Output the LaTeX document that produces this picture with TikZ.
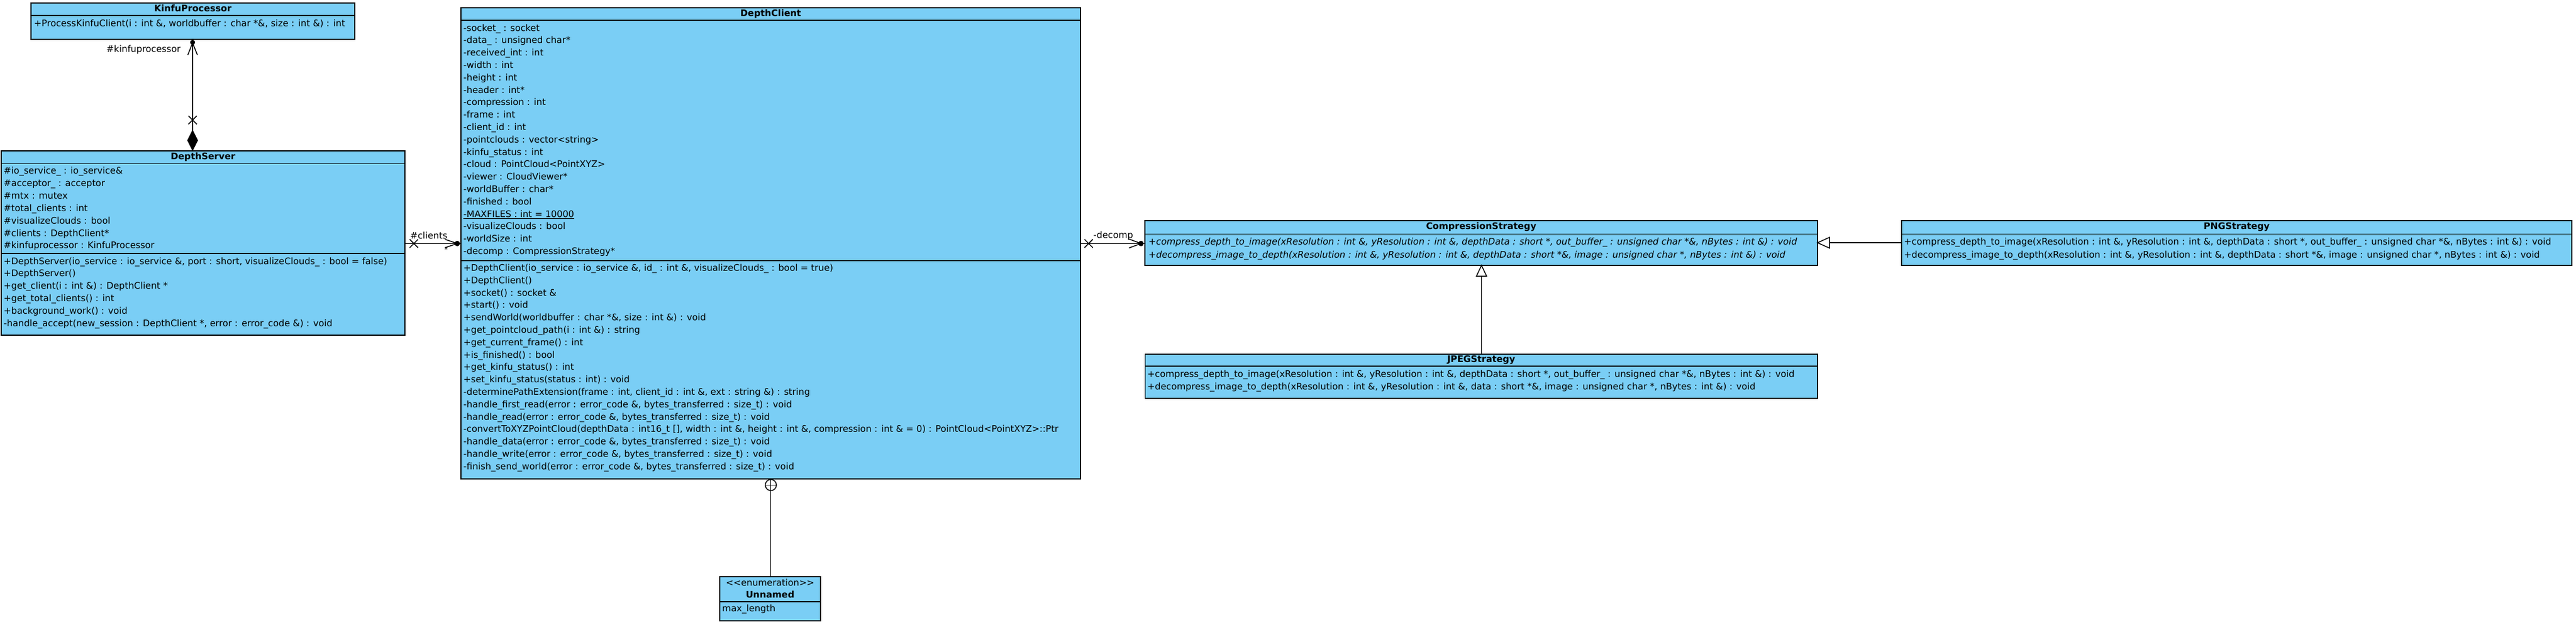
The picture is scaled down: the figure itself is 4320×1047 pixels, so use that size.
\documentclass[tikz,border=0pt]{standalone}
\usepackage{fontspec}
\setmainfont{DejaVu Sans}
\usetikzlibrary{calc}
\definecolor{cls}{RGB}{122,206,245}
\begin{document}
\begin{tikzpicture}[x=1pt,y=-1pt,
  box/.style={draw=black, line width=1.8pt, fill=cls, anchor=north west, inner sep=0pt, outer sep=0pt, rectangle},
  sepl/.style={line width=1.6pt},
  txt/.style={anchor=west, inner sep=0pt, font=\fontsize{15.2pt}{20pt}\selectfont, text height=11pt, text depth=3.4pt},
  itx/.style={txt, font=\fontsize{15.2pt}{20pt}\selectfont\itshape},
  ttl/.style={anchor=center, inner sep=0pt, font=\fontsize{15.2pt}{20pt}\selectfont\bfseries, text height=11pt, text depth=3.4pt},
  lbl/.style={anchor=center, inner sep=0pt, font=\fontsize{15.2pt}{20pt}\selectfont, text height=11pt, text depth=3.4pt},
  conn/.style={line width=1.5pt}]

\useasboundingbox[fill=white] (0,0) rectangle (4320,1047);

% ---------- boxes ----------
\node[box, minimum width=543pt, minimum height=61pt] (kp) at (52,5) {};
\node[box, minimum width=677pt, minimum height=308.4pt] (ds) at (2,253.3) {};
\node[box, minimum width=1038.4pt, minimum height=789.4pt] (dc) at (773.3,13.3) {};
\node[box, minimum width=1127.8pt, minimum height=75pt] (cs) at (1920.2,370) {};
\node[box, minimum width=1123.9pt, minimum height=75pt] (png) at (3188.8,370) {};
\node[box, minimum width=1127.5pt, minimum height=74.3pt] (jp) at (1920.5,594) {};
\node[box, minimum width=168.4pt, minimum height=74.3pt] (en) at (1207.3,966.7) {};

% ---------- compartment separators ----------
\draw[sepl] (52,26) -- (595,26);
\draw[sepl] (2,274.5) -- (679,274.5);
\draw[sepl] (2,425) -- (679,425);
\draw[sepl] (773.3,34) -- (1811.7,34);
\draw[sepl] (773.3,436.7) -- (1811.7,436.7);
\draw[sepl] (1920.2,392.3) -- (3048,392.3);
\draw[sepl] (3188.8,392.3) -- (4312.7,392.3);
\draw[sepl] (1920.5,614) -- (3048,614);
\draw[sepl] (1207.3,1009) -- (1375.7,1009);

% ---------- KinfuProcessor ----------
\node[ttl] (kpt) at (323.5,16) {KinfuProcessor};
\node[txt] (kpm) at (57,40.7) {+ProcessKinfuClient(i : int \&, worldbuffer : char *\&, size : int \&) : int};

% ---------- DepthServer ----------
\node[ttl] (dst) at (340.5,264) {DepthServer};
\foreach \t [count=\i from 0] in {%
  {\#io\_service\_ : io\_service\&},
  {\#acceptor\_ : acceptor},
  {\#mtx : mutex},
  {\#total\_clients : int},
  {\#visualizeClouds : bool},
  {\#clients : DepthClient*},
  {\#kinfuprocessor : KinfuProcessor}}
  \node[txt] (dsa\i) at (6,287.7+20.9*\i) {\t};
\foreach \t [count=\i from 0] in {%
  {+DepthServer(io\_service : io\_service \&, port : short, visualizeClouds\_ : bool = false)},
  {+DepthServer()},
  {+get\_client(i : int \&) : DepthClient *},
  {+get\_total\_clients() : int},
  {+background\_work() : void},
  {-handle\_accept(new\_session : DepthClient *, error : error\_code \&) : void}}
  \node[txt] (dsm\i) at (6,439.3+20.8*\i) {\t};

% ---------- DepthClient ----------
\node[ttl] (dct) at (1292.5,24) {DepthClient};
\begin{scope}
\clip (dc.south west) rectangle (dc.north east);
\foreach \t [count=\i from 0] in {%
  {-socket\_ : socket},
  {-data\_ : unsigned char*},
  {-received\_int : int},
  {-width : int},
  {-height : int},
  {-header : int*},
  {-compression : int},
  {-frame : int},
  {-client\_id : int},
  {-pointclouds : vector<string>},
  {-kinfu\_status : int},
  {-cloud : PointCloud<PointXYZ>},
  {-viewer : CloudViewer*},
  {-worldBuffer : char*},
  {-finished : bool},
  {\underline{-MAXFILES : int = 10000}},
  {-visualizeClouds : bool},
  {-worldSize : int},
  {-decomp : CompressionStrategy*}}
  \node[txt] (dca\i) at (777,48.3+20.8*\i) {\t};
\foreach \t [count=\i from 0] in {%
  {+DepthClient(io\_service : io\_service \&, id\_ : int \&, visualizeClouds\_ : bool = true)},
  {+DepthClient()},
  {+socket() : socket \&},
  {+start() : void},
  {+sendWorld(worldbuffer : char *\&, size : int \&) : void},
  {+get\_pointcloud\_path(i : int \&) : string},
  {+get\_current\_frame() : int},
  {+is\_finished() : bool},
  {+get\_kinfu\_status() : int},
  {+set\_kinfu\_status(status : int) : void},
  {-determinePathExtension(frame : int, client\_id : int \&, ext : string \&) : string},
  {-handle\_first\_read(error : error\_code \&, bytes\_transferred : size\_t) : void},
  {-handle\_read(error : error\_code \&, bytes\_transferred : size\_t) : void},
  {-convertToXYZPointCloud(depthData : int16\_t [], width : int \&, height : int \&, compression : int \& = 0) : PointCloud<PointXYZ>::Ptr},
  {-handle\_data(error : error\_code \&, bytes\_transferred : size\_t) : void},
  {-handle\_write(error : error\_code \&, bytes\_transferred : size\_t) : void},
  {-finish\_send\_world(error : error\_code \&, bytes\_transferred : size\_t) : void}}
  \node[txt] (dcm\i) at (777,450.7+20.8*\i) {\t};
\end{scope}
\draw[line width=1.8pt] (dc.south west) rectangle (dc.north east);

% ---------- CompressionStrategy ----------
\node[ttl] (cst) at (2484,381) {CompressionStrategy};
\node[itx] (csm0) at (1926,406.7) {+compress\_depth\_to\_image(xResolution : int \&, yResolution : int \&, depthData : short *, out\_buffer\_ : unsigned char *\&, nBytes : int \&) : void};
\node[itx] (csm1) at (1926,428.3) {+decompress\_image\_to\_depth(xResolution : int \&, yResolution : int \&, depthData : short *\&, image : unsigned char *, nBytes : int \&) : void};

% ---------- PNGStrategy ----------
\node[ttl] (pngt) at (3751,381) {PNGStrategy};
\node[txt] (pngm0) at (3193,406.7) {+compress\_depth\_to\_image(xResolution : int \&, yResolution : int \&, depthData : short *, out\_buffer\_ : unsigned char *\&, nBytes : int \&) : void};
\node[txt] (pngm1) at (3193,428.3) {+decompress\_image\_to\_depth(xResolution : int \&, yResolution : int \&, depthData : short *\&, image : unsigned char *, nBytes : int \&) : void};

% ---------- JPEGStrategy ----------
\node[ttl] (jpt) at (2484,604) {JPEGStrategy};
\node[txt] (jpm0) at (1924,629) {+compress\_depth\_to\_image(xResolution : int \&, yResolution : int \&, depthData : short *, out\_buffer\_ : unsigned char *\&, nBytes : int \&) : void};
\node[txt] (jpm1) at (1924,650) {+decompress\_image\_to\_depth(xResolution : int \&, yResolution : int \&, data : short *\&, image : unsigned char *, nBytes : int \&) : void};

% ---------- Enumeration ----------
\node[lbl] (ens) at (1291.5,978.3) {<\kern0pt<enumeration>\kern0pt>};
\node[ttl] (ent) at (1291.5,998.3) {Unnamed};
\node[txt] (enm) at (1211,1021.7) {max\_length};

% ---------- connectors ----------
% KinfuProcessor <- DepthServer (composition)
\coordinate (kx) at (323,0);
\coordinate (ka) at (kp.south -| kx);
\coordinate (kb) at (ds.north -| kx);
\draw[conn] (ka) -- (kb);
\fill ($(ka)+(0,5)$) circle (4.2);
\draw[conn] ($(ka)+(-8,26)$) -- ($(ka)+(0,6)$) -- ($(ka)+(8,26)$);
\draw[conn] ($(kb)+(-7,-59)$) -- ($(kb)+(7,-45)$);
\draw[conn] ($(kb)+(7,-59)$) -- ($(kb)+(-7,-45)$);
\fill (kb) -- ++(-9,-18) -- ++(9,-18) -- ++(9,18) -- cycle;
\node[lbl, anchor=east] (kplbl) at (303,84) {\#kinfuprocessor};

% DepthServer -> DepthClient (#clients)
\coordinate (cy) at (0,408.3);
\coordinate (ca) at (ds.east |- cy);
\coordinate (cb) at (dc.west |- cy);
\draw[conn] (ca) -- (cb);
\draw[conn] ($(ca)+(8,-7)$) -- ($(ca)+(22,7)$);
\draw[conn] ($(ca)+(22,-7)$) -- ($(ca)+(8,7)$);
\fill ($(cb)+(-6.5,0)$) circle (4.5);
\draw[conn] ($(cb)+(-27,-7)$) -- ($(cb)+(-6.5,0)$) -- ($(cb)+(-27,7)$);
\node[lbl] (cllbl) at (719,396.7) {\#clients};
\node[lbl, font=\fontsize{11pt}{12pt}\selectfont] (clm) at (748,419) {*};

% DepthClient -> CompressionStrategy (-decomp)
\coordinate (da) at (dc.east |- cy);
\coordinate (db) at (cs.west |- cy);
\draw[conn] (da) -- (db);
\draw[conn] ($(da)+(7,-7)$) -- ($(da)+(21,7)$);
\draw[conn] ($(da)+(21,-7)$) -- ($(da)+(7,7)$);
\fill ($(db)+(-6.7,0)$) circle (4.5);
\draw[conn] ($(db)+(-27,-7.5)$) -- ($(db)+(-6.7,0)$) -- ($(db)+(-27,7.5)$);
\node[lbl] (dclbl) at (1867,396) {-decomp};

% PNGStrategy -> CompressionStrategy (generalization)
\coordinate (gy) at (0,407);
\coordinate (ga) at (png.west |- gy);
\coordinate (gb) at (cs.east |- gy);
\draw[conn] (ga) -- ($(gb)+(20,0)$);
\draw[conn, fill=white] (gb) -- ++(20,-9) -- ++(0,18) -- cycle;

% JPEGStrategy -> CompressionStrategy (generalization)
\coordinate (gx) at (2484.5,0);
\coordinate (ja) at (jp.north -| gx);
\coordinate (jb) at (cs.south -| gx);
\draw[conn] (ja) -- ($(jb)+(0,18)$);
\draw[conn, fill=white] (jb) -- ++(-8.5,18) -- ++(17,0) -- cycle;

% DepthClient (+) Unnamed (nesting)
\coordinate (nx) at (1292.7,0);
\coordinate (na) at (dc.south -| nx);
\coordinate (nb) at (en.north -| nx);
\coordinate (nc) at ($(na)+(0,10.6)$);
\draw[conn, fill=white] (nc) circle (9.3);
\draw[conn] ($(nc)+(-9.3,0)$) -- ($(nc)+(9.3,0)$);
\draw[conn] ($(nc)+(0,-9.3)$) -- ($(nc)+(0,9.3)$);
\draw[conn] ($(nc)+(0,9.3)$) -- (nb);
\end{tikzpicture}
\end{document}
